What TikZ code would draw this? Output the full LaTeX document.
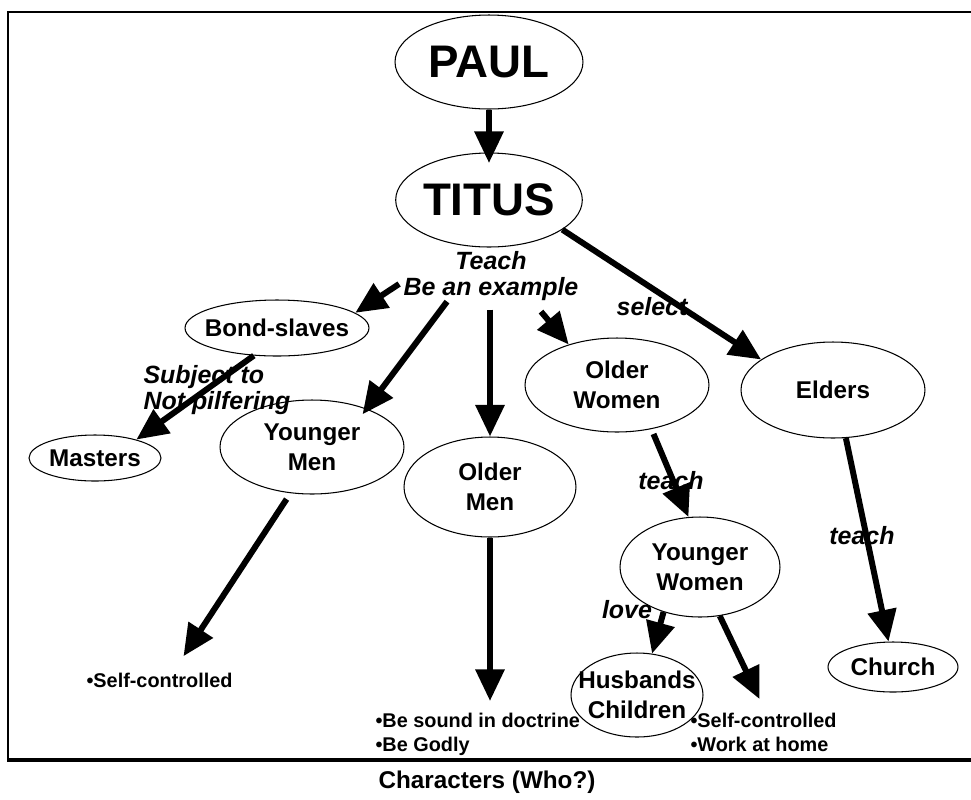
\documentclass[tikz,border=0pt]{standalone}
\usepackage{fontspec}
\setmainfont{Liberation Sans}
\usepackage{tikz}
\usetikzlibrary{arrows.meta}
\usetikzlibrary{shapes.geometric,calc}

\begin{document}
\begin{tikzpicture}[x=0.02cm,y=-0.02cm,semithick,
  every node/.style={font=\fontsize{13.8}{17}\selectfont\bfseries},
  oval/.style={draw,ellipse,inner sep=0pt,align=center},
  big/.style={font=\fontsize{26}{28}\selectfont\bfseries},
  lbl/.style={font=\fontsize{14.2}{15.3}\selectfont\bfseries\itshape,inner sep=0pt,align=center},
  pts/.style={font=\fontsize{11.3}{13.2}\selectfont\bfseries,inner sep=0pt,align=left},
  arr/.style={line width=3.4pt,-{Triangle[length=18pt,width=16pt]}}]
\useasboundingbox (0,0) rectangle (971,799);
\draw[line width=1.2pt] (971,12) -- (8,12) -- (8,760);
\draw[line width=2.4pt] (7,760) -- (971,760);

\node[oval,big,minimum width=3.76cm,minimum height=1.88cm] (paul) at (489,62) {PAUL};
\node[oval,big,minimum width=3.72cm,minimum height=1.88cm] (titus) at (489,200) {TITUS};
\node[lbl] (tch) at (491,276) {Teach\\Be an example};
\node[oval,inner xsep=-4.2pt,minimum width=3.68cm,minimum height=1.12cm] (bond) at (277,328) {Bond-slaves};
\node[oval,minimum width=2.64cm,minimum height=0.92cm] (masters) at (95,458) {Masters};
\node[oval,minimum width=3.68cm,minimum height=1.88cm] (ym) at (312,447) {Younger\\Men};
\node[oval,minimum width=3.44cm,minimum height=2cm] (om) at (490,487) {Older\\Men};
\node[oval,minimum width=3.68cm,minimum height=1.88cm] (ow) at (617,385) {Older\\Women};
\node[oval,minimum width=3.68cm,minimum height=1.92cm] (elders) at (833,390) {Elders};
\node[oval,minimum width=3.2cm,minimum height=2cm] (yw) at (700,567) {Younger\\Women};
\node[oval,inner xsep=-7pt,minimum width=2.64cm,minimum height=1.68cm] (hc) at (637,695) {Husbands\\Children};
\node[oval,minimum width=2.6cm,minimum height=1cm] (church) at (893,667) {Church};

\node[lbl] (sel) at (652,307) {select};
\node[lbl,align=left,anchor=west] (subj) at (143,390) {Subject to\\Not pilfering};
\node[lbl] (tch1) at (671,481) {teach};
\node[lbl] (tch2) at (862,536) {teach};
\node[lbl] (lv) at (627,610) {love};
\node[pts,anchor=west] (sc) at (86,680) {•Self-controlled};
\node[pts,anchor=north west] (bs) at (375,713) {•Be sound in doctrine\\•Be Godly};
\node[pts,anchor=north west] (hw) at (690,713) {•Self-controlled\\•Work at home};
\node (ttl) at (487,782) {Characters (Who?)};

\draw[arr,shorten >=-6pt] (paul) -- (titus);
\draw[arr] (titus.-22) -- (elders.157);
\draw[arr] ($(tch.west)+(-4,8)$) -- (bond.11);
\draw[arr,shorten >=-4pt] ($(tch.south)+(-44,0)$) -- (ym.35);
\draw[arr] ($(tch.south)+(-1,8)$) -- (om.north);
\draw[arr] ($(tch.south)+(50,10)$) -- (ow.140);
\draw[arr] (bond.230) -- (masters.24);
\draw[arr,shorten <=4pt] (ym.245) -- ($(sc.north)+(24,-16)$);
\draw[arr] (om.south) -- ($(om.south |- bs.north)+(0,-12)$);
\draw[arr,shorten <=3pt] (ow.-52) -- (yw.103);
\draw[arr] (elders.-75) -- (church.100);
\draw[arr] (yw.231) -- (hc.70);
\draw[arr] (yw.-68) -- ($(hw.north)+(-4,-14)$);
\end{tikzpicture}
\end{document}
